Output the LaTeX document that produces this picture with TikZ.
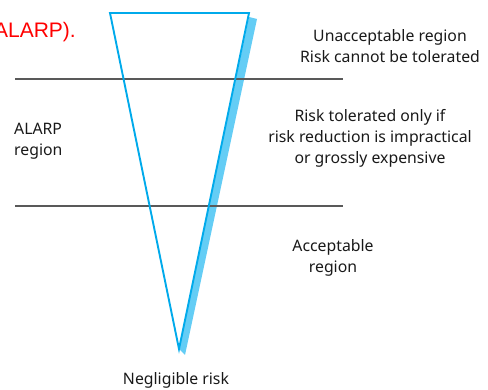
\documentclass[tikz,border=0pt]{standalone}
\usepackage{fontspec}
\setmainfont{Noto Sans}
\newfontfamily\redfont{Liberation Sans}
\definecolor{tricol}{RGB}{0,170,235}
\definecolor{shadecol}{RGB}{100,205,245}
\begin{document}
\begin{tikzpicture}[x=1pt,y=-1pt,
  lbl/.style={inner sep=0pt, font=\fontsize{15.8}{21}\selectfont, align=center, text=black!90},
  sep/.style={draw=black!65, line width=1.1pt},
  tri/.style={draw=tricol, line width=1.9pt, line join=miter},
  shade/.style={fill=shadecol}]
\useasboundingbox (0,0) rectangle (488,390);
% shadow
\coordinate (s1) at (249,17);
\coordinate (s2) at (257,19);
\coordinate (s3) at (185,355);
\coordinate (s4) at (179,349);
\fill[shade] (s1) -- (s2) -- (s3) -- (s4) -- cycle;
% separators
\coordinate (l1a) at (15,79);
\coordinate (l1b) at (343,79);
\coordinate (l2a) at (15,206);
\coordinate (l2b) at (343,206);
\draw[sep] (l1a) -- (l1b);
\draw[sep] (l2a) -- (l2b);
% triangle
\coordinate (ta) at (110,13);
\coordinate (tb) at (249,13);
\coordinate (tc) at (179,349);
\draw[tri] (ta) -- (tb) -- (tc) -- cycle;
% texts
\node[anchor=east, inner sep=0pt, text=red, font=\redfont\fontsize{21}{24}\selectfont] (red) at (76,32) {(ALARP).};
\node[lbl] (unacc) at (390,46) {Unacceptable region\\Risk cannot be tolerated};
\node[lbl] (tol) at (370,138) {Risk tolerated only if\\risk reduction is impractical\\or grossly expensive};
\node[lbl, align=left, anchor=west] (alarp) at (14,141) {ALARP\\region};
\node[lbl] (acc) at (333,258) {Acceptable\\region};
\node[lbl] (neg) at (176,380) {Negligible risk};
\end{tikzpicture}
\end{document}
